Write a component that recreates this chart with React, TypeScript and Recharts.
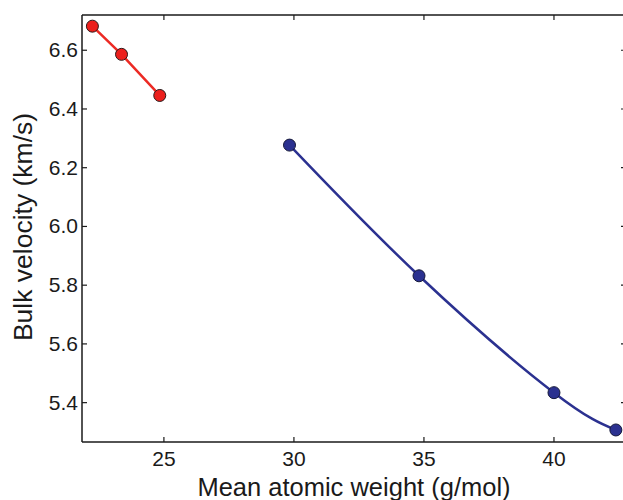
import React from "react";
import { LineChart, Line, XAxis, YAxis } from "recharts";

// mean atomic weight (g/mol) vs bulk velocity (km/s)
const redWeights = [22.25, 23.37, 24.84];
const redVelocities = [6.682, 6.586, 6.446];
const blueWeights = [29.83, 34.81, 40.0, 42.38];
const blueVelocities = [6.277, 5.832, 5.434, 5.307];

const xTicks = [25, 30, 35, 40];
const yTicks = [5.4, 5.6, 5.8, 6.0, 6.2, 6.4, 6.6];

const redData = redWeights.map((w, i) => ({ w, v: redVelocities[i] }));
const blueData = blueWeights.map((w, i) => ({ w, v: blueVelocities[i] }));

const FONT = '"Liberation Sans", Arial, sans-serif';
const INK = "#1a1a1a";

const BottomTick = ({ x, y, payload }: any) => (
  <g>
    <line x1={x} x2={x} y1={y} y2={y - 5} stroke={INK} strokeWidth={1.2} />
    <text x={x} y={y + 24} textAnchor="middle" fontSize={21} fill={INK} fontFamily={FONT}>
      {payload.value}
    </text>
  </g>
);

const TopTick = ({ x, y }: any) => (
  <line x1={x} x2={x} y1={y} y2={y + 5} stroke={INK} strokeWidth={1.2} />
);

const LeftTick = ({ x, y, payload }: any) => (
  <g>
    <line x1={x} x2={x + 5} y1={y} y2={y} stroke={INK} strokeWidth={1.2} />
    <text x={x - 4} y={y + 7} textAnchor="end" fontSize={21} fill={INK} fontFamily={FONT}>
      {Number(payload.value).toFixed(1)}
    </text>
  </g>
);

const RightTick = ({ x, y }: any) => (
  <line x1={x} x2={x - 5} y1={y} y2={y} stroke={INK} strokeWidth={1.2} />
);

export default function App() {
  return (
    <div
      style={{
        position: "absolute",
        left: 0,
        top: 0,
        width: 623,
        height: 500,
        overflow: "hidden",
        background: "#fff",
      }}
    >
      <LineChart width={628} height={500} margin={{ top: 13, right: 0, bottom: 0, left: 0 }}>
        <XAxis
          xAxisId="bottom"
          dataKey="w"
          type="number"
          domain={[21.85, 42.77]}
          allowDataOverflow
          ticks={xTicks}
          tick={BottomTick}
          tickLine={false}
          tickSize={0}
          tickMargin={0}
          height={58}
          axisLine={{ stroke: INK, strokeWidth: 1.5 }}
          label={{
            content: () => (
              <text x={354} y={496} textAnchor="middle" fontSize={25.5} fill={INK} fontFamily={FONT}>
                Mean atomic weight (g/mol)
              </text>
            ),
          }}
        />
        <XAxis
          xAxisId="top"
          orientation="top"
          dataKey="w"
          type="number"
          domain={[21.85, 42.77]}
          allowDataOverflow
          ticks={xTicks}
          tick={TopTick}
          tickLine={false}
          tickSize={0}
          tickMargin={0}
          height={2}
          axisLine={{ stroke: INK, strokeWidth: 1.5 }}
        />
        <YAxis
          yAxisId="left"
          type="number"
          domain={[5.266, 6.72]}
          allowDataOverflow
          ticks={yTicks}
          tick={LeftTick}
          tickLine={false}
          tickSize={0}
          tickMargin={0}
          width={82}
          axisLine={{ stroke: INK, strokeWidth: 1.5 }}
          label={{
            content: () => (
              <text
                x={32}
                y={227}
                textAnchor="middle"
                fontSize={26.5}
                fill={INK}
                fontFamily={FONT}
                transform="rotate(-90, 32, 227)"
              >
                Bulk velocity (km/s)
              </text>
            ),
          }}
        />
        <YAxis
          yAxisId="right"
          orientation="right"
          type="number"
          domain={[5.266, 6.72]}
          allowDataOverflow
          ticks={yTicks}
          tick={RightTick}
          tickLine={false}
          tickSize={0}
          tickMargin={0}
          width={2}
          axisLine={false}
        />
        <Line
          xAxisId="bottom"
          yAxisId="left"
          data={redData}
          dataKey="v"
          type="linear"
          stroke="#ec2a24"
          strokeWidth={2.5}
          dot={{ r: 6, fill: "#ec1f1c", stroke: "#2a1a1a", strokeWidth: 1 }}
          isAnimationActive={false}
        />
        <Line
          xAxisId="bottom"
          yAxisId="left"
          data={blueData}
          dataKey="v"
          type="natural"
          stroke="#2b3190"
          strokeWidth={2.5}
          dot={{ r: 6, fill: "#2b3190", stroke: "#15183a", strokeWidth: 1 }}
          isAnimationActive={false}
        />
      </LineChart>
    </div>
  );
}
